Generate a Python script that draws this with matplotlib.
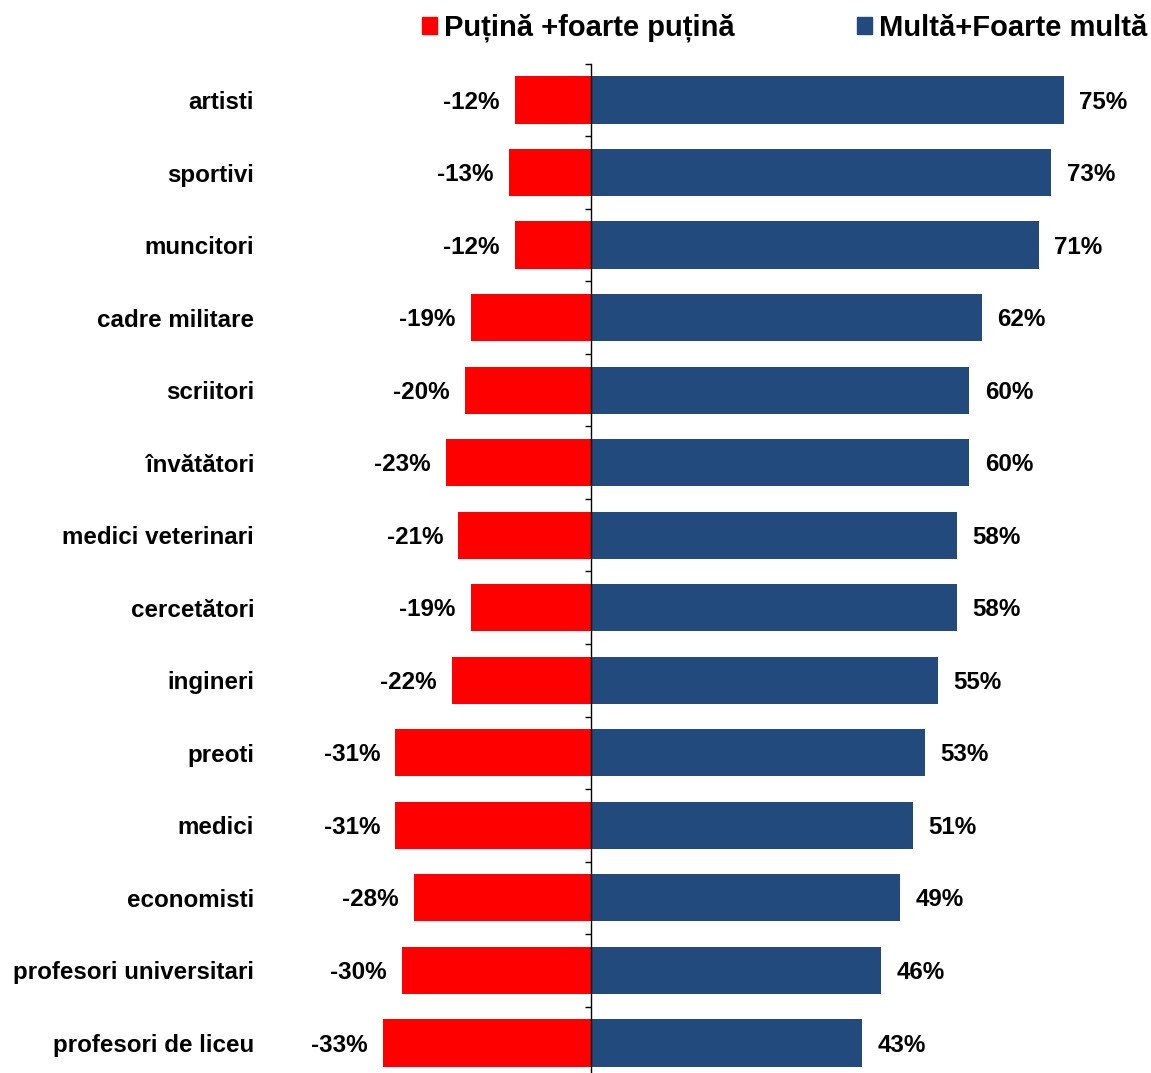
import numpy as np
import matplotlib.pyplot as plt
from matplotlib.patches import Patch
from matplotlib.ticker import FixedLocator

plt.rcParams['font.family'] = ['Liberation Sans', 'DejaVu Sans']
plt.rcParams['font.weight'] = 'bold'

categories = ['artisti', 'sportivi', 'muncitori', 'cadre militare', 'scriitori',
              'învătători', 'medici veterinari', 'cercetători', 'ingineri', 'preoti',
              'medici', 'economisti', 'profesori universitari', 'profesori de liceu']
low = [-12, -13, -12, -19, -20, -23, -21, -19, -22, -31, -31, -28, -30, -33]
high = [75, 73, 71, 62, 60, 60, 58, 58, 55, 53, 51, 49, 46, 43]

red = '#FF0000'
blue = '#224A7D'

fig = plt.figure(figsize=(11.51, 10.73), dpi=100)
ax = fig.add_axes([0.2667, -0.0058, 0.7125, 0.9464])

y = np.arange(len(categories))
ax.barh(y, low, height=0.65, color=red)
ax.barh(y, high, height=0.65, color=blue)

for yi, v in zip(y, low):
    ax.annotate(f'{v}%', (v, yi), xytext=(-11, -1.5), textcoords='offset points',
                ha='right', va='center', fontsize=17.4, fontweight='bold')
for yi, v in zip(y, high):
    ax.annotate(f'{v}%', (v, yi), xytext=(11, -1.5), textcoords='offset points',
                ha='left', va='center', fontsize=17.4, fontweight='bold')

ax.set_xlim(-45, 85)
ax.set_ylim(len(categories) - 0.5, -0.5)
ax.set_yticks(y)
ax.set_yticklabels(categories)
ax.yaxis.set_minor_locator(FixedLocator(np.arange(-0.5, len(categories), 1)))
ax.tick_params(axis='y', which='major', length=0, pad=38, labelsize=17.4)
ax.tick_params(axis='y', which='minor', left=False, right=True, direction='in', length=4.5, width=1)
ax.set_xticks([])

for s in ['top', 'bottom', 'left']:
    ax.spines[s].set_visible(False)
ax.spines['right'].set_position(('data', 0))
ax.spines['right'].set_linewidth(1)

handles = [Patch(color=red, label='Puțină +foarte puțină'),
           Patch(color=blue, label='Multă+Foarte multă')]
fig.legend(handles=handles, loc='upper right', bbox_to_anchor=(1.0145, 1.006), ncol=2,
           frameon=False, prop={'size': 21, 'weight': 'bold'}, handlelength=0.5,
           handleheight=0.5, handletextpad=0.25, columnspacing=4.2, borderaxespad=0.3)

fig.savefig('out.png', dpi=100)
